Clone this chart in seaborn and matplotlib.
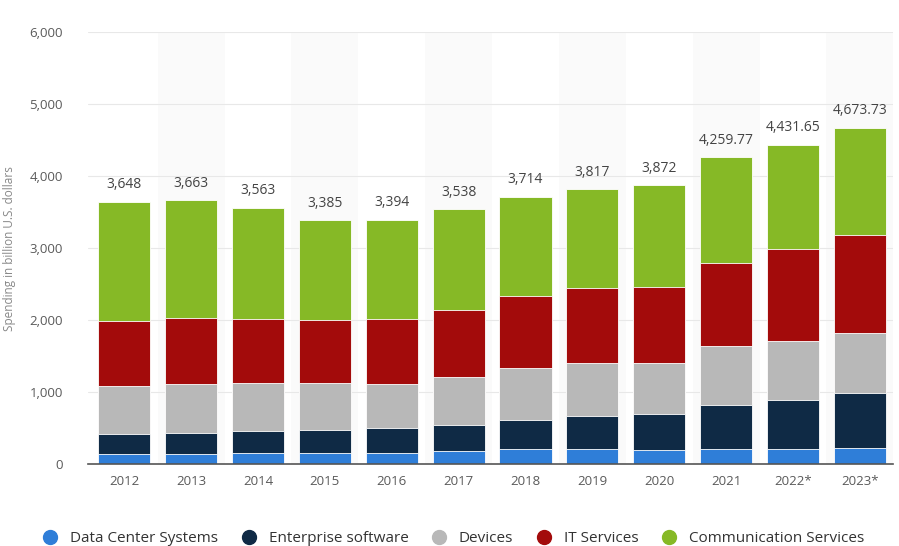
import numpy as np
import pandas as pd
import seaborn as sns
import matplotlib.pyplot as plt
from matplotlib.lines import Line2D

years = ["2012", "2013", "2014", "2015", "2016", "2017", "2018", "2019", "2020", "2021", "2022*", "2023*"]
data_center = [141, 140, 150, 155, 155, 177, 210, 215, 190, 215, 216, 222]
enterprise_sw = [280, 290, 311, 323, 341, 370, 406, 459, 505, 609, 677, 764]
devices = [670, 688, 665, 655, 619, 661, 716, 727, 706, 817, 822, 831]
it_services = [900, 908, 892, 868, 896, 932, 1006, 1039, 1062, 1159, 1270, 1371]
comm_services = [1657, 1637, 1545, 1384, 1383, 1398, 1376, 1377, 1409, 1459.77, 1446.65, 1485.73]
total_labels = ["3,648", "3,663", "3,563", "3,385", "3,394", "3,538", "3,714", "3,817", "3,872",
                "4,259.77", "4,431.65", "4,673.73"]

series = ["Data Center Systems", "Enterprise software", "Devices", "IT Services", "Communication Services"]
colors = ["#2f7ed8", "#0f2a45", "#b8b8b8", "#a30b0b", "#86b926"]

stack = np.array([data_center, enterprise_sw, devices, it_services, comm_services])
cum = np.cumsum(stack, axis=0)
df = pd.DataFrame(cum.T, columns=series)
df["year"] = years

sns.set_theme(style="white")
plt.rcParams["font.family"] = ["Open Sans", "DejaVu Sans"]

fig = plt.figure(figsize=(8.99, 5.46), dpi=100)
ax = fig.add_axes([0.098, 0.150, 0.895, 0.791])

# alternating column shading (very faint)
for i in range(1, len(years), 2):
    ax.axvspan(i - 0.5, i + 0.5, color="#fafafa", zorder=0, lw=0)

# draw cumulative bars, tallest first so smaller stacks overlay
for name, col in reversed(list(zip(series, colors))):
    sns.barplot(data=df, x="year", y=name, color=col, width=0.78, saturation=1,
                edgecolor="white", linewidth=0.6, ax=ax, zorder=3)

for i, lab in enumerate(total_labels):
    ax.annotate(lab, (i, cum[-1, i]), xytext=(0, 7), textcoords="offset points",
                ha="center", va="bottom", fontsize=10, color="#444444")

ax.set_ylim(0, 6000)
ax.set_xlim(-0.54, 11.49)
ax.set_yticks(range(0, 6001, 1000))
ax.set_yticklabels([f"{v:,}" for v in range(0, 6001, 1000)])
ax.yaxis.grid(True, color="#e8e8e8", linewidth=0.8, zorder=1)
ax.set_axisbelow(True)
for s in ["top", "right", "left"]:
    ax.spines[s].set_visible(False)
ax.spines["bottom"].set_color("#555555")
ax.spines["bottom"].set_linewidth(1.2)
ax.spines["bottom"].set_zorder(5)
ax.tick_params(axis="both", length=0, labelsize=9.5, labelcolor="#5a5a5a")
ax.tick_params(axis="y", pad=18)
ax.tick_params(axis="x", pad=8)
ax.set_xlabel("")
ax.set_ylabel("Spending in billion U.S. dollars", fontsize=8.5, color="#888888", labelpad=10)

handles = [Line2D([], [], marker="o", linestyle="", markersize=10, markerfacecolor=c,
                  markeredgecolor=c) for c in colors]
fig.legend(handles, series, loc="lower center", bbox_to_anchor=(0.5, -0.025), ncol=5,
           frameon=False, fontsize=11, handletextpad=0.3, columnspacing=1.0,
           labelcolor="#333333")

fig.savefig("out.png", dpi=100)
